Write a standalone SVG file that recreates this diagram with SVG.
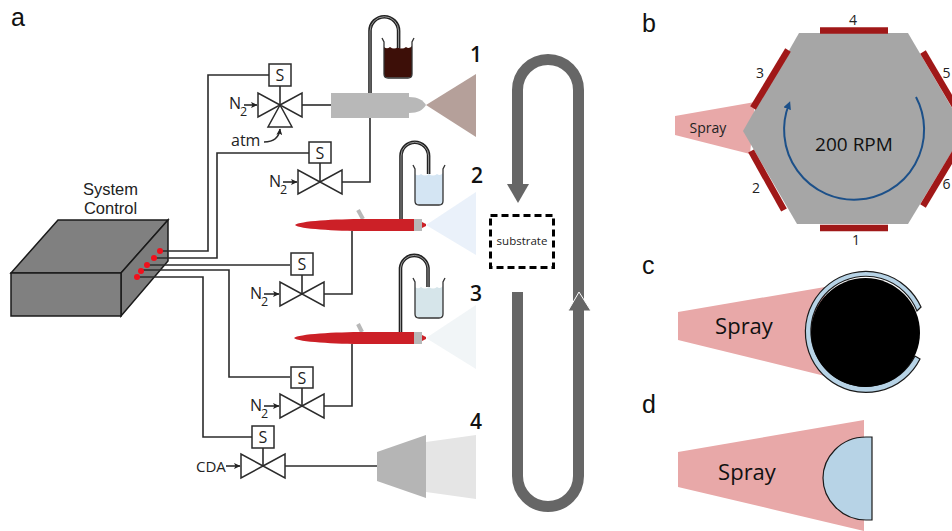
<svg xmlns="http://www.w3.org/2000/svg" width="952" height="531" viewBox="0 0 952 531">
<style>
.w{fill:none;stroke:#2b2b2b;stroke-width:1.6}
.v{fill:#fff;stroke:#2b2b2b;stroke-width:1.5;stroke-linejoin:miter}
.t{font-family:"Open Sans","Liberation Sans",sans-serif;fill:#222}
.s{font-size:16px;text-anchor:middle}
.n{font-size:16px}
.sub{font-size:12.500px}
.lab{font-family:"Liberation Sans",sans-serif;font-size:25px;fill:#111}
.num{font-family:"Open Sans",sans-serif;font-size:21px;font-weight:600;fill:#111;text-anchor:middle}
.sm{font-family:"Open Sans",sans-serif;font-size:14px;fill:#222;text-anchor:middle}
.spray{fill:#e8a8a8}
.sp{font-family:"Open Sans",sans-serif;font-size:22px;fill:#111;text-anchor:middle}
.bar{stroke:#a01818;stroke-width:6.5;fill:none}
.tube{fill:none;stroke:#222;stroke-width:3.6}
.tube2{fill:none;stroke:#999;stroke-width:1}
.track{fill:none;stroke:#666;stroke-width:11}
.gun{fill:#cc2027}
.gy{fill:#b8b8b8}
</style>
<defs>
<marker id="ah" markerWidth="7" markerHeight="6" refX="6" refY="3" orient="auto" markerUnits="userSpaceOnUse"><path d="M0,0 L6.500,3 L0,6 L1.500,3 Z" fill="#222"/></marker>
<marker id="bh" markerWidth="8" markerHeight="8" refX="5" refY="4" orient="auto" markerUnits="userSpaceOnUse"><path d="M0,0 L8,4 L0,8 Z" fill="#1c5089"/></marker>
<g id="beaker">
<path d="M2,9 Q5,11.500 8,9 Q12,12 16,9 Q20,12 24,9 Q27,11.500 30,8 L30,36 Q30,39.500 26,39.500 L6,39.500 Q2,39.500 2,36 Z"/>
<path d="M0,0 L2,4 L2,36 Q2,40 6,40 L26,40 Q30,40 30,36 L30,4 L32,0" fill="none" stroke="#333" stroke-width="1.300"/>
</g>
<g id="valve">
<path class="v" d="M0,0 L-22,-12 L-22,12 Z"/>
<path class="v" d="M0,0 L22,-12 L22,12 Z"/>
</g>
</defs>
<rect width="952" height="531" fill="#fff"/>

<g id="labels">
<text class="lab" x="11" y="26">a</text>
<text class="lab" x="642" y="32">b</text>
<text class="lab" x="642" y="274">c</text>
<text class="lab" x="642" y="413">d</text>
</g>

<g id="system-control">
<path d="M11,273 L58,220 H168 L121,273 Z" fill="#808080" stroke="#1a1a1a" stroke-width="1.500"/>
<path d="M121,273 L168,220 V261 L121,316 Z" fill="#7c7c7c" stroke="#1a1a1a" stroke-width="1.500"/>
<rect x="11" y="273" width="110" height="43" fill="#808080" stroke="#1a1a1a" stroke-width="1.500"/>
<text x="110.500" y="195" font-family="Liberation Sans,sans-serif" font-size="16.500" fill="#222" text-anchor="middle">System</text>
<text x="110.500" y="214" font-family="Liberation Sans,sans-serif" font-size="16.500" fill="#222" text-anchor="middle">Control</text>
</g>

<g id="connectors">
<path class="w" d="M160,251 H208 V75 H269"/>
<path class="w" d="M154,258 H217 V153 H309"/>
<path class="w" d="M147,265 H290"/>
<path class="w" d="M141,270 H229 V377 H290"/>
<path class="w" d="M137,277 H203 V437 H252"/>
<path class="w" d="M302,105 H331"/>
<path class="w" d="M342,182 H370 V118"/>
<path class="w" d="M323,294 H352 V231"/>
<path class="w" d="M323,406 H352 V344"/>
<path class="w" d="M285,466 H377"/>
<path class="w" d="M280,86 V105"/>
<path class="w" d="M320,163 V182"/>
<path class="w" d="M302,275 V294"/>
<path class="w" d="M302,388 V406"/>
<path class="w" d="M263,448 V466"/>
<path class="w" marker-end="url(#ah)" d="M244,105 H257"/>
<path class="w" marker-end="url(#ah)" d="M283,182 H297"/>
<path class="w" marker-end="url(#ah)" d="M264,294 H279"/>
<path class="w" marker-end="url(#ah)" d="M264,406 H279"/>
<path class="w" marker-end="url(#ah)" d="M226,466 H240"/>
<path class="w" marker-end="url(#ah)" d="M264,142 C273,142 279,138 280,129"/>
</g>

<g id="control-ports" fill="#f0101c">
<circle cx="160" cy="251" r="3"/><circle cx="154" cy="258" r="3"/><circle cx="147" cy="265" r="3"/><circle cx="141" cy="271" r="3"/><circle cx="137" cy="277" r="3"/>
</g>

<g id="valve-1">
<path class="v" d="M280,105 L268,127 H292 Z"/>
<use href="#valve" x="280" y="105"/>
<rect class="v" x="269" y="64" width="22" height="22"/>
<text class="t s" x="280" y="81">S</text>
<text class="t n" x="229" y="109">N</text><text class="t sub" x="240" y="116">2</text>
<text class="t" font-size="16" x="231" y="146">atm</text>
</g>
<g id="valve-2">
<use href="#valve" x="320" y="182"/>
<rect class="v" x="309" y="142" width="22" height="21"/>
<text class="t s" x="320" y="158.500">S</text>
<text class="t n" x="269" y="187">N</text><text class="t sub" x="280" y="194">2</text>
</g>
<g id="valve-3">
<use href="#valve" x="302" y="294"/>
<rect class="v" x="291" y="253" width="22" height="22"/>
<text class="t s" x="302" y="270">S</text>
<text class="t n" x="250" y="299">N</text><text class="t sub" x="261" y="306">2</text>
</g>
<g id="valve-4">
<use href="#valve" x="302" y="406"/>
<rect class="v" x="291" y="367" width="22" height="21"/>
<text class="t s" x="302" y="383.500">S</text>
<text class="t n" x="250" y="411">N</text><text class="t sub" x="261" y="418">2</text>
</g>
<g id="valve-5">
<use href="#valve" x="263" y="466"/>
<rect class="v" x="252" y="426" width="22" height="22"/>
<text class="t s" x="263" y="443">S</text>
<text class="t" font-size="15" x="196" y="472">CDA</text>
</g>

<g id="sprayer-1">
<use href="#beaker" x="382" y="38" fill="#3d0f08"/>
<path class="tube" d="M370,93 V31 A14.300,14.300 0 0 1 398.600,31 V48"/>
<path class="tube2" d="M370,93 V31 A14.300,14.300 0 0 1 398.600,31 V48"/>
<rect class="gy" x="331" y="93" width="78" height="25"/>
<path class="gy" d="M409,97 C418,97 423,100 426,105 C423,110 418,113 409,113 Z"/>
<path d="M426,105 L476,74 V137 Z" fill="#b5a09a"/>
<text class="num" x="476" y="62">1</text>
</g>
<g id="sprayer-2">
<use href="#beaker" x="413" y="165" fill="#d4e5f3"/>
<path class="tube" d="M401,219 V156 A13.800,13.800 0 0 1 428.600,156 V174"/>
<path class="tube2" d="M401,219 V156 A13.800,13.800 0 0 1 428.600,156 V174"/>
<path d="M358,210 L363,219" stroke="#b8b8b8" stroke-width="4"/>
<path class="gun" d="M295,225 C299,221 335,219 365,219 H414 V231 H365 C335,231 299,229 295,225 Z"/>
<path class="gun" d="M422,222 L426,224 V226 L422,228 Z"/>
<rect class="gy" x="414" y="219" width="8" height="12"/>
<path d="M426,225 L476,192 V255 Z" fill="#eaf1fa"/>
<text class="num" x="477" y="183">2</text>
</g>
<g id="sprayer-3">
<use href="#beaker" x="413" y="278" fill="#d6e5ea"/>
<path class="tube" d="M400.500,332 V268 A13.800,13.800 0 0 1 428,268 V287"/>
<path class="tube2" d="M400.500,332 V268 A13.800,13.800 0 0 1 428,268 V287"/>
<path d="M358,324 L362,332" stroke="#b8b8b8" stroke-width="4"/>
<path class="gun" d="M294,338 C298,334 335,332 365,332 H414 V344 H365 C335,344 298,342 294,338 Z"/>
<path class="gun" d="M422,335 L426,337 V339 L422,341 Z"/>
<rect class="gy" x="414" y="332" width="8" height="12"/>
<path d="M426,338 L476,305 V369 Z" fill="#f1f5f7"/>
<text class="num" x="476" y="301">3</text>
</g>
<g id="sprayer-4">
<path d="M377,452 L426,435 V498 L377,481 Z" fill="#b5b5b5"/>
<path d="M426,442 L476,435 V499 L426,492 Z" fill="#e5e5e5"/>
<text class="num" x="476" y="429">4</text>
</g>

<g id="track">
<path class="track" d="M517.500,185 V90 A30.500,30.500 0 0 1 578.500,90 V305"/>
<path d="M507,184 H529 L518,203 Z" fill="#666"/>
<path class="track" d="M517.500,292 V476 A30.500,30.500 0 0 0 578.500,476 V305"/>
<path d="M568,311 L579,292 L591,311 Z" fill="#666" stroke="#fff" stroke-width="1"/>
<rect x="573" y="308" width="11" height="6" fill="#666"/>
</g>
<g id="substrate">
<rect x="490.500" y="215.500" width="63" height="52" fill="#fff" stroke="#000" stroke-width="3" stroke-dasharray="7 4"/>
<text class="t" font-size="11.500" x="522" y="245" text-anchor="middle">substrate</text>
</g>

<g id="panel-b">
<path class="spray" d="M675,116 L755,102 L750,154 L675,135 Z"/>
<path d="M799,33 H908 L965,130 L908,224 H797 L743,131 Z" fill="#a6a6a6"/>
<path class="bar" d="M820,30.500 H888"/>
<path class="bar" d="M820,228 H888"/>
<path class="bar" d="M753,108 L788,50"/>
<path class="bar" d="M751,151 L784,210"/>
<path class="bar" d="M923,52 L956,108"/>
<path class="bar" d="M923,206 L956,151"/>
<path d="M916,97 A70,70 0 1 1 789,104" fill="none" stroke="#1c5089" stroke-width="2" marker-end="url(#bh)"/>
<text class="sm" x="853" y="25">4</text>
<text class="sm" x="856" y="245">1</text>
<text class="sm" x="760" y="78">3</text>
<text class="sm" x="756" y="193">2</text>
<text class="sm" x="946.500" y="78">5</text>
<text class="sm" x="946.500" y="189">6</text>
<text class="sm" x="708" y="133" font-size="12">Spray</text>
<text x="854" y="150.500" font-family="Open Sans,sans-serif" font-size="19" fill="#111" text-anchor="middle">200 RPM</text>
</g>
<g id="panel-c">
<path class="spray" d="M678,312 L825,287 V376 L678,340 Z"/>
<path d="M921,307 A60.500,60.500 0 1 0 920,359 L915,356 A55,55 0 1 1 917,311 Z" fill="#b7d3e6" stroke="#1a1a1a" stroke-width="1.200"/>
<circle cx="865.500" cy="332.500" r="54.500" fill="#000"/>
<text class="sp" x="744" y="334">Spray</text>
</g>
<g id="panel-d">
<path class="spray" d="M678,452 L864,420 V531 L678,487 Z"/>
<path d="M872,437 H866 C840,437 823,458 823,478 C823,500 842,520 866,520 H872 Z" fill="#b7d3e6" stroke="#1a1a1a" stroke-width="1.200"/>
<text class="sp" x="747" y="480">Spray</text>
</g>
</svg>
